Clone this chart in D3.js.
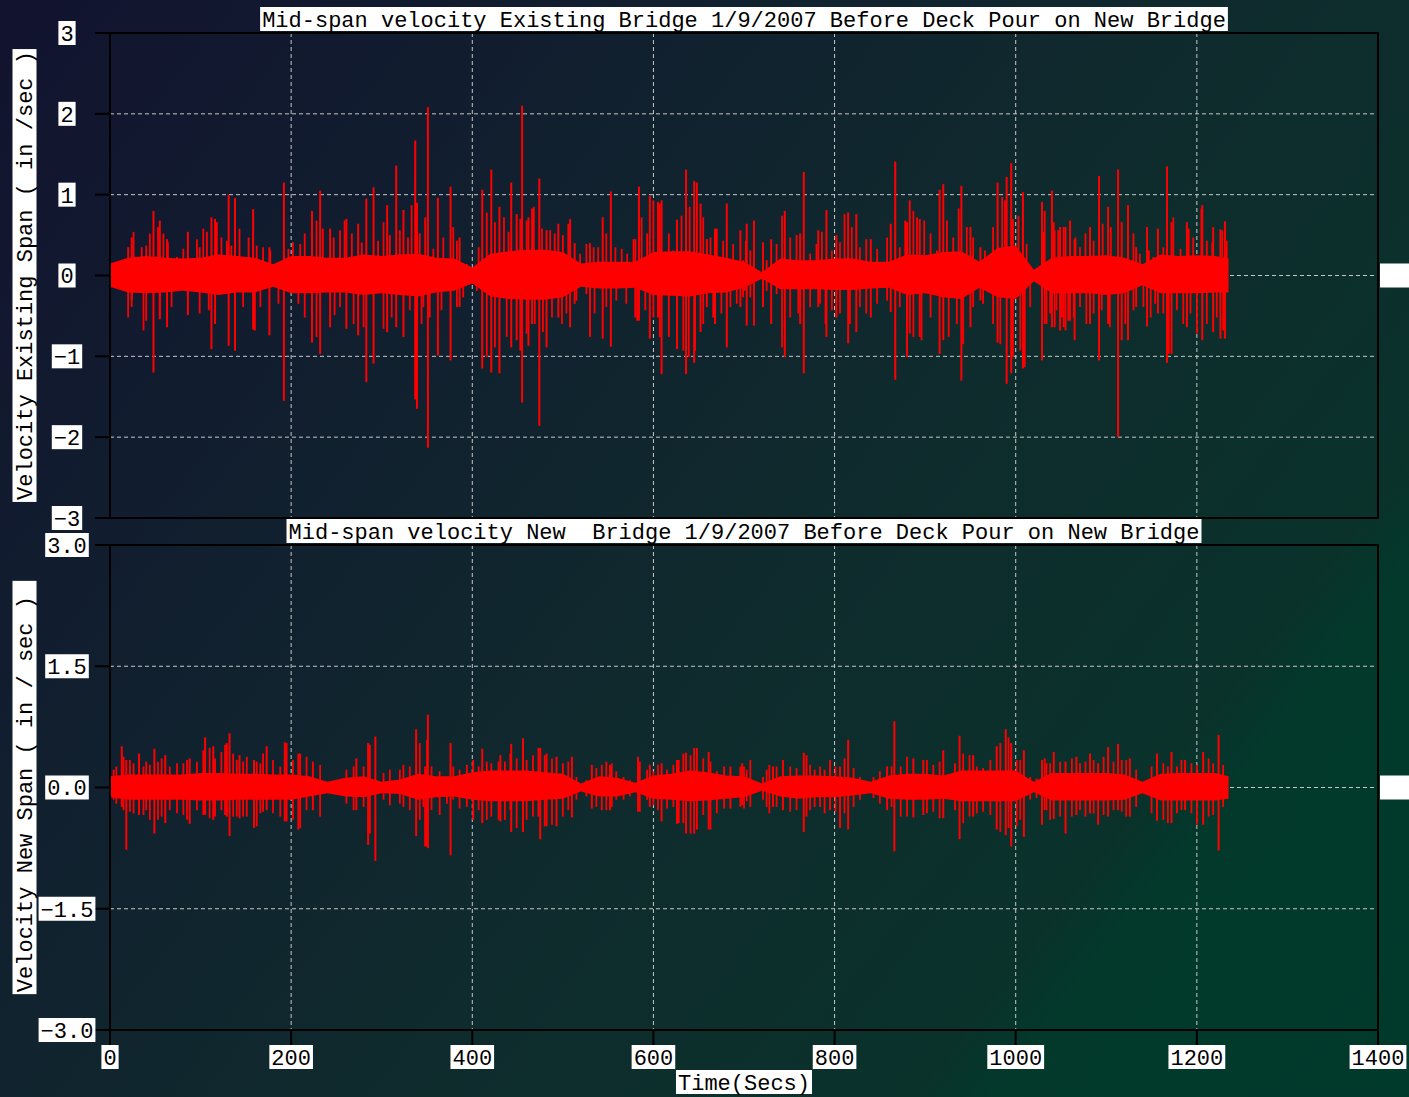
<!DOCTYPE html>
<html>
<head>
<meta charset="utf-8">
<script src="https://cdn.jsdelivr.net/npm/d3@7"></script>
<style>
html, body { margin: 0; padding: 0; overflow: hidden; background: #10262d; }
svg { display: block; }
text { font-family: "Liberation Mono", "DejaVu Sans Mono", monospace; }
</style>
</head>
<body>
<script>
let width = 1409
let height = 1097
let font_size = 22
let signal_color = '#ff0000'
let grid_color = '#c8c8c8'

// time axis
let x_ticks = [0, 200, 400, 600, 800, 1000, 1200, 1400]
let x_grid = [200, 400, 600, 800, 1000, 1200]

// titles
let top_title = 'Mid-span velocity Existing Bridge 1/9/2007 Before Deck Pour on New Bridge'
let bottom_title = 'Mid-span velocity New  Bridge 1/9/2007 Before Deck Pour on New Bridge'
let top_ylabel = 'Velocity Existing Span ( in /sec )'
let bottom_ylabel = 'Velocity New Span ( in / sec ) '
let x_label = 'Time(Secs)'

let top_ticks = [3, 2, 1, 0, -1, -2, -3]
let bottom_ticks = [3, 1.5, 0, -1.5, -3]

// solid band of the record, read every 20 s
let core_times = [0, 20, 40, 60, 80, 100, 120, 140, 160, 180, 200, 220, 240, 260, 280, 300, 320, 340,
    360, 380, 400, 420, 440, 460, 480, 500, 520, 540, 560, 580, 600, 620, 640, 660, 680, 700,
    720, 740, 760, 780, 800, 820, 840, 860, 880, 900, 920, 940, 960, 980, 1000, 1020, 1040, 1060,
    1080, 1100, 1120, 1140, 1160, 1180, 1200, 1220, 1235]
let existing_core_hi = [0.15, 0.22, 0.24, 0.22, 0.21, 0.22, 0.26, 0.24, 0.22, 0.14, 0.24, 0.24, 0.22, 0.22, 0.26, 0.24, 0.26, 0.27,
    0.22, 0.21, 0.10, 0.27, 0.30, 0.32, 0.32, 0.29, 0.15, 0.17, 0.17, 0.17, 0.29, 0.30, 0.30, 0.26, 0.22, 0.17,
    0.04, 0.21, 0.19, 0.19, 0.21, 0.21, 0.17, 0.17, 0.26, 0.25, 0.29, 0.30, 0.17, 0.34, 0.37, 0.07, 0.22, 0.24,
    0.24, 0.25, 0.22, 0.14, 0.26, 0.24, 0.25, 0.24, 0.21]
let existing_core_lo = [-0.14, -0.21, -0.22, -0.21, -0.19, -0.21, -0.24, -0.21, -0.21, -0.14, -0.22, -0.22, -0.21, -0.21, -0.24, -0.22, -0.24, -0.26,
    -0.21, -0.19, -0.10, -0.26, -0.29, -0.30, -0.30, -0.27, -0.14, -0.16, -0.16, -0.15, -0.24, -0.25, -0.26, -0.22, -0.21, -0.15,
    -0.04, -0.17, -0.17, -0.17, -0.18, -0.18, -0.16, -0.15, -0.24, -0.22, -0.27, -0.29, -0.15, -0.27, -0.29, -0.07, -0.22, -0.22,
    -0.22, -0.24, -0.22, -0.12, -0.22, -0.22, -0.22, -0.21, -0.21]
let new_core_hi = [0.14, 0.16, 0.16, 0.16, 0.16, 0.18, 0.18, 0.17, 0.17, 0.16, 0.16, 0.14, 0.07, 0.12, 0.14, 0.07, 0.10, 0.17,
    0.14, 0.14, 0.19, 0.21, 0.21, 0.21, 0.19, 0.17, 0.05, 0.14, 0.12, 0.06, 0.15, 0.17, 0.21, 0.19, 0.15, 0.14,
    0.05, 0.14, 0.15, 0.15, 0.14, 0.12, 0.07, 0.15, 0.17, 0.17, 0.15, 0.21, 0.21, 0.21, 0.21, 0.07, 0.18, 0.18,
    0.18, 0.18, 0.16, 0.07, 0.17, 0.18, 0.18, 0.18, 0.14]
let new_core_lo = [-0.12, -0.15, -0.15, -0.15, -0.15, -0.16, -0.16, -0.15, -0.15, -0.15, -0.15, -0.11, -0.07, -0.11, -0.12, -0.07, -0.08, -0.15,
    -0.12, -0.11, -0.15, -0.17, -0.17, -0.17, -0.15, -0.14, -0.05, -0.11, -0.11, -0.06, -0.14, -0.15, -0.17, -0.16, -0.14, -0.12,
    -0.04, -0.11, -0.14, -0.12, -0.12, -0.10, -0.07, -0.14, -0.15, -0.15, -0.14, -0.17, -0.17, -0.17, -0.17, -0.06, -0.16, -0.16,
    -0.16, -0.16, -0.15, -0.07, -0.16, -0.16, -0.16, -0.16, -0.14]

// larger peaks: [time, max, min]
let existing_spikes = [
    [0, 0.33, -0.39], [24, 0.47, -0.30], [48, 0.80, -1.20], [55, 0.68, -0.54], [63, 0.45, -0.64], [86, 0.54, -0.49],
    [112, 0.72, -0.91], [116, 0.70, -0.60], [131, 1.00, -0.87], [138, 0.96, -0.93], [158, 0.82, -0.67], [176, 0.35, -0.74],
    [192, 1.15, -1.55], [223, 0.80, -0.83], [232, 1.05, -0.97], [243, 0.58, -0.64], [261, 0.70, -0.66], [274, 0.64, -0.74],
    [283, 0.95, -1.32], [291, 1.09, -1.09], [306, 0.87, -0.70], [316, 1.36, -0.64], [324, 0.81, -0.76], [337, 1.67, -1.53],
    [339, 0.90, -1.65], [351, 2.08, -2.13], [362, 0.96, -0.99], [376, 1.10, -1.05], [386, 0.47, -0.39], [411, 1.06, -1.15],
    [421, 1.31, -1.20], [430, 0.85, -1.21], [443, 1.15, -0.89], [449, 0.76, -0.80], [455, 2.10, -1.57], [462, 0.72, -0.87],
    [466, 0.83, -0.60], [474, 1.20, -1.86], [482, 0.56, -0.89], [495, 0.64, -0.52], [508, 0.70, -0.64], [513, 0.40, -0.35],
    [530, 0.40, -0.76], [544, 0.72, -0.78], [553, 1.04, -0.88], [580, 0.45, -0.52], [584, 1.10, -0.56], [596, 0.99, -0.78],
    [605, 0.91, -0.52], [609, 0.93, -1.22], [626, 0.69, -0.91], [636, 1.31, -1.22], [645, 1.17, -1.08], [652, 0.89, -0.70],
    [659, 0.45, -0.39], [668, 0.58, -0.60], [681, 0.89, -0.89], [696, 0.56, -0.39], [703, 0.64, -0.62], [711, 0.68, -0.62],
    [721, 0.41, -0.39], [730, 0.45, -0.60], [745, 0.80, -1.01], [762, 0.52, -0.60], [766, 1.28, -1.21], [782, 0.56, -0.39],
    [791, 0.81, -0.76], [802, 0.50, -0.52], [815, 0.78, -0.84], [824, 0.76, -0.70], [840, 0.45, -0.52], [862, 0.64, -0.45],
    [867, 1.41, -1.29], [880, 0.66, -1.01], [883, 0.93, -0.72], [894, 0.70, -0.76], [916, 1.06, -0.97], [920, 1.13, -0.80],
    [940, 1.11, -1.30], [950, 0.60, -0.64], [961, 0.35, -0.31], [980, 1.15, -0.83], [990, 1.22, -1.34], [995, 1.39, -1.21],
    [1008, 1.03, -1.15], [1029, 0.91, -1.05], [1040, 1.05, -0.64], [1049, 0.60, -0.68], [1053, 0.60, -0.64], [1060, 0.68, -0.56],
    [1065, 0.45, -0.80], [1082, 0.60, -0.60], [1092, 1.23, -1.05], [1102, 0.85, -0.60], [1113, 1.31, -2.00], [1117, 0.66, -0.80],
    [1124, 0.87, -0.80], [1133, 0.35, -0.39], [1145, 0.60, -0.63], [1157, 0.58, -0.47], [1167, 1.35, -1.08], [1172, 0.66, -0.97],
    [1189, 0.66, -0.64], [1206, 0.87, -0.80], [1218, 0.60, -0.70], [1226, 0.57, -0.78], [1231, 0.67, -0.78]
]
// smaller one-sided excursions: [time, value]
let existing_peaks_up = [
    [20, 0.35], [26, 0.54], [35, 0.35], [40, 0.37], [44, 0.52], [53, 0.60], [59, 0.52], [64, 0.41], [74, 0.23], [81, 0.33],
    [96, 0.45], [99, 0.35], [103, 0.58], [107, 0.54], [118, 0.66], [123, 0.47], [129, 0.43], [134, 0.37], [143, 0.58], [153, 0.47],
    [162, 0.37], [169, 0.35], [177, 0.31], [197, 0.33], [202, 0.41], [210, 0.39], [215, 0.52], [228, 0.68], [235, 0.58], [247, 0.47],
    [254, 0.56], [259, 0.68], [267, 0.52], [278, 0.41], [296, 0.43], [302, 0.66], [309, 0.50], [320, 0.56], [329, 0.47], [333, 0.87],
    [342, 0.52], [348, 0.72], [346, 0.19], [357, 0.33], [368, 0.47], [379, 0.60], [383, 0.43], [394, 0.14], [407, 0.35], [416, 0.78],
    [425, 0.66], [435, 0.72], [440, 0.54], [453, 0.70], [460, 0.68], [468, 0.85], [477, 0.58], [486, 0.56], [491, 0.52], [500, 0.50],
    [506, 0.64], [519, 0.27], [526, 0.39], [534, 0.35], [539, 0.35], [548, 0.52], [558, 0.35], [565, 0.33], [571, 0.27], [578, 0.45],
    [587, 0.72], [593, 0.52], [600, 0.93], [607, 0.89], [617, 0.52], [622, 0.31], [631, 0.74], [640, 0.85], [648, 1.15], [655, 0.72],
    [663, 0.47], [670, 0.58], [677, 0.43], [688, 0.39], [702, 0.43], [699, 0.19], [707, 0.31], [725, 0.19], [736, 0.39], [742, 0.74],
    [751, 0.47], [758, 0.50], [773, 0.27], [780, 0.39], [786, 0.54], [797, 0.31], [806, 0.41], [811, 0.76], [819, 0.60], [828, 0.35],
    [835, 0.45], [847, 0.33], [858, 0.47], [872, 0.35], [878, 0.68], [887, 0.80], [891, 0.72], [899, 0.68], [906, 0.52], [913, 0.31],
    [924, 0.68], [931, 0.47], [937, 0.83], [946, 0.60], [953, 0.47], [966, 0.31], [975, 0.60], [985, 0.97], [988, 0.93], [997, 0.70],
    [1003, 0.74], [1012, 0.39], [1031, 0.54], [1042, 0.66], [1047, 0.56], [1055, 0.60], [1032, 0.80], [1043, 0.56], [1066, 0.47], [1071, 0.35],
    [1077, 0.52], [1086, 0.43], [1096, 0.64], [1105, 0.60], [1130, 0.52], [1137, 0.27], [1147, 0.31], [1152, 0.23], [1163, 0.35], [1174, 0.72],
    [1182, 0.33], [1191, 0.58], [1196, 0.47], [1205, 0.83], [1211, 0.43], [1217, 0.41], [1228, 0.56], [1233, 0.43]
]
let existing_peaks_down = [
    [20, -0.52], [24, -0.39], [37, -0.68], [40, -0.56], [55, -0.52], [68, -0.39], [99, -0.47], [109, -0.43], [147, -0.39], [160, -0.68],
    [166, -0.39], [186, -0.35], [208, -0.35], [215, -0.52], [228, -0.76], [248, -0.49], [254, -0.39], [269, -0.60], [280, -0.64], [302, -0.66],
    [311, -0.52], [331, -0.43], [344, -0.60], [346, -0.39], [353, -0.52], [366, -0.43], [383, -0.39], [390, -0.27], [405, -0.19], [416, -1.01],
    [425, -0.89], [438, -0.76], [453, -0.93], [460, -0.72], [469, -0.60], [478, -0.70], [488, -0.52], [499, -0.60], [504, -0.47], [515, -0.31],
    [526, -0.23], [535, -0.47], [548, -0.39], [559, -0.31], [570, -0.35], [582, -0.56], [591, -0.43], [600, -0.52], [607, -0.76], [617, -0.76],
    [633, -0.93], [639, -1.01], [646, -0.93], [655, -0.60], [666, -0.52], [675, -0.47], [685, -0.39], [692, -0.35], [701, -0.19], [699, -0.27],
    [707, -0.27], [725, -0.19], [736, -0.23], [742, -0.89], [751, -0.52], [760, -0.47], [773, -0.39], [784, -0.35], [790, -0.60], [797, -0.43],
    [806, -0.47], [817, -0.60], [828, -0.39], [835, -0.47], [847, -0.35], [858, -0.31], [872, -0.39], [887, -0.76], [896, -0.80], [906, -0.52],
    [926, -0.76], [935, -0.60], [942, -0.85], [953, -0.39], [964, -0.35], [975, -0.60], [983, -0.85], [997, -1.01], [1005, -0.93], [1010, -1.13],
    [1016, -0.39], [1034, -0.60], [1043, -0.64], [1051, -0.52], [1058, -0.56], [1032, -0.60], [1038, -0.47], [1045, -0.43], [1055, -0.68], [1064, -0.52],
    [1071, -0.39], [1078, -0.60], [1086, -0.47], [1095, -0.43], [1104, -0.64], [1121, -0.60], [1130, -0.43], [1141, -0.39], [1149, -0.52], [1154, -0.35],
    [1163, -0.47], [1169, -0.97], [1178, -0.43], [1185, -0.60], [1193, -0.47], [1200, -0.72], [1211, -0.60], [1222, -0.52], [1229, -0.68]
]

let new_spikes = [
    [0, 0.24, -0.30], [13, 0.51, -0.24], [18, 0.34, -0.77], [32, 0.42, -0.34], [49, 0.48, -0.57], [61, 0.40, -0.44],
    [88, 0.36, -0.45], [105, 0.62, -0.34], [114, 0.51, -0.40], [129, 0.55, -0.36], [132, 0.67, -0.60], [143, 0.40, -0.38],
    [159, 0.34, -0.50], [173, 0.51, -0.28], [193, 0.56, -0.42], [208, 0.42, -0.52], [224, 0.32, -0.28], [272, 0.36, -0.28],
    [285, 0.55, -0.71], [293, 0.63, -0.91], [338, 0.72, -0.60], [348, 0.26, -0.73], [351, 0.90, -0.75], [376, 0.55, -0.84],
    [401, 0.34, -0.40], [411, 0.48, -0.44], [431, 0.40, -0.42], [443, 0.54, -0.55], [456, 0.61, -0.55], [475, 0.49, -0.64],
    [482, 0.42, -0.48], [493, 0.38, -0.48], [510, 0.38, -0.37], [532, 0.28, -0.26], [552, 0.28, -0.28], [583, 0.38, -0.30],
    [596, 0.28, -0.24], [609, 0.30, -0.42], [626, 0.34, -0.45], [636, 0.43, -0.57], [645, 0.49, -0.57], [661, 0.44, -0.52],
    [685, 0.26, -0.26], [698, 0.30, -0.22], [732, 0.26, -0.24], [743, 0.34, -0.28], [766, 0.43, -0.55], [769, 0.40, -0.36],
    [795, 0.34, -0.28], [806, 0.26, -0.50], [815, 0.59, -0.52], [858, 0.26, -0.28], [866, 0.82, -0.79], [887, 0.36, -0.37],
    [898, 0.34, -0.34], [920, 0.46, -0.38], [938, 0.64, -0.64], [953, 0.40, -0.36], [979, 0.51, -0.52], [989, 0.72, -0.59],
    [995, 0.55, -0.73], [1009, 0.46, -0.61], [1029, 0.34, -0.46], [1042, 0.44, -0.39], [1055, 0.32, -0.57], [1067, 0.38, -0.34],
    [1082, 0.42, -0.32], [1091, 0.30, -0.46], [1102, 0.50, -0.36], [1113, 0.54, -0.28], [1126, 0.36, -0.36], [1156, 0.42, -0.41],
    [1172, 0.44, -0.44], [1187, 0.34, -0.28], [1207, 0.44, -0.46], [1224, 0.65, -0.78]
]
// smaller excursions: [time, max, min]
let new_hairs = [
    [4, 0.22, -0.15], [7, 0.26, -0.20], [15, 0.38, -0.28], [22, 0.34, -0.30], [26, 0.30, -0.32], [37, 0.26, -0.34], [40, 0.32, -0.28],
    [44, 0.28, -0.40], [53, 0.32, -0.40], [57, 0.36, -0.36], [66, 0.26, -0.28], [74, 0.30, -0.32], [81, 0.30, -0.34], [85, 0.34, -0.40],
    [96, 0.32, -0.28], [103, 0.46, -0.34], [110, 0.49, -0.38], [116, 0.36, -0.36], [123, 0.44, -0.28], [127, 0.53, -0.34], [136, 0.42, -0.36],
    [140, 0.34, -0.36], [147, 0.32, -0.36], [151, 0.38, -0.36], [162, 0.32, -0.48], [166, 0.30, -0.32], [169, 0.42, -0.30], [180, 0.34, -0.32],
    [188, 0.26, -0.36], [195, 0.55, -0.42], [202, 0.34, -0.40], [210, 0.42, -0.50], [217, 0.38, -0.28], [232, 0.28, -0.36], [261, 0.22, -0.20],
    [269, 0.26, -0.28], [280, 0.26, -0.24], [287, 0.53, -0.57], [302, 0.18, -0.15], [309, 0.22, -0.22], [320, 0.22, -0.20], [324, 0.28, -0.24],
    [331, 0.26, -0.28], [342, 0.55, -0.40], [350, 0.59, -0.73], [346, 0.13, -0.24], [355, 0.26, -0.28], [364, 0.20, -0.34], [372, 0.13, -0.20],
    [379, 0.26, -0.15], [386, 0.22, -0.26], [394, 0.28, -0.24], [407, 0.26, -0.28], [416, 0.32, -0.40], [421, 0.30, -0.36], [429, 0.32, -0.40],
    [436, 0.32, -0.40], [442, 0.42, -0.28], [449, 0.36, -0.50], [460, 0.34, -0.40], [467, 0.40, -0.36], [473, 0.49, -0.36], [480, 0.40, -0.48],
    [488, 0.36, -0.46], [500, 0.30, -0.36], [506, 0.32, -0.28], [515, 0.13, -0.15], [526, 0.09, -0.11], [537, 0.24, -0.24], [543, 0.28, -0.28],
    [548, 0.32, -0.28], [554, 0.30, -0.24], [559, 0.20, -0.15], [567, 0.13, -0.15], [574, 0.09, -0.11], [585, 0.32, -0.30], [593, 0.22, -0.15],
    [600, 0.20, -0.22], [605, 0.28, -0.28], [615, 0.22, -0.26], [622, 0.28, -0.24], [628, 0.34, -0.44], [633, 0.42, -0.44], [641, 0.40, -0.57],
    [648, 0.49, -0.52], [655, 0.36, -0.34], [663, 0.32, -0.52], [670, 0.20, -0.32], [678, 0.26, -0.26], [696, 0.26, -0.24], [703, 0.22, -0.17],
    [700, 0.26, -0.26], [707, 0.34, -0.24], [721, 0.13, -0.15], [725, 0.22, -0.24], [728, 0.28, -0.32], [736, 0.26, -0.24], [751, 0.26, -0.30],
    [758, 0.24, -0.28], [773, 0.28, -0.28], [778, 0.22, -0.24], [784, 0.26, -0.24], [789, 0.22, -0.32], [801, 0.26, -0.30], [811, 0.36, -0.32],
    [821, 0.24, -0.24], [828, 0.13, -0.15], [843, 0.13, -0.13], [850, 0.20, -0.20], [863, 0.26, -0.24], [873, 0.26, -0.36], [880, 0.38, -0.36],
    [902, 0.34, -0.32], [909, 0.28, -0.30], [916, 0.32, -0.38], [933, 0.30, -0.28], [942, 0.42, -0.44], [949, 0.40, -0.36], [957, 0.26, -0.32],
    [964, 0.24, -0.30], [972, 0.34, -0.34], [983, 0.55, -0.55], [992, 0.62, -0.50], [1001, 0.34, -0.48], [1005, 0.34, -0.40], [1016, 0.13, -0.15],
    [1023, 0.11, -0.13], [1034, 0.30, -0.28], [1049, 0.32, -0.36], [1032, 0.36, -0.28], [1038, 0.30, -0.40], [1062, 0.36, -0.36], [1071, 0.30, -0.28],
    [1077, 0.32, -0.36], [1086, 0.34, -0.32], [1097, 0.38, -0.34], [1108, 0.32, -0.28], [1117, 0.34, -0.30], [1122, 0.34, -0.36], [1133, 0.22, -0.24],
    [1150, 0.26, -0.32], [1163, 0.30, -0.40], [1168, 0.26, -0.44], [1178, 0.26, -0.32], [1183, 0.34, -0.28], [1194, 0.30, -0.32], [1200, 0.28, -0.46],
    [1213, 0.36, -0.36], [1218, 0.30, -0.34], [1229, 0.28, -0.24]
]

let x = d3.scaleLinear().domain([0, 1400]).range([110, 1378])

let panels = [
    {y: d3.scaleLinear().domain([-3, 3]).range([518, 33]), ticks: top_ticks, fmt: d3.format('d'),
     hi: existing_core_hi, lo: existing_core_lo, spikes: existing_spikes,
     hairs: existing_peaks_up.map(d => [d[0], d[1], 0]).concat(existing_peaks_down.map(d => [d[0], 0, d[1]])),
     title: top_title, ylabel: top_ylabel},
    {y: d3.scaleLinear().domain([-3, 3]).range([1030, 545]), ticks: bottom_ticks, fmt: d3.format('.1f'),
     hi: new_core_hi, lo: new_core_lo, spikes: new_spikes, hairs: new_hairs,
     title: bottom_title, ylabel: bottom_ylabel}
]

let svg = d3.select('body').append('svg')
    .attr('width', width)
    .attr('height', height)

let defs = svg.append('defs')
let grad = defs.append('linearGradient')
    .attr('id', 'bg')
    .attr('gradientUnits', 'userSpaceOnUse')
    .attr('x1', 0).attr('y1', 0)
    .attr('x2', width).attr('y2', height)
grad.append('stop').attr('offset', 0).attr('stop-color', '#12132f')
grad.append('stop').attr('offset', 0.3).attr('stop-color', '#11202f')
grad.append('stop').attr('offset', 0.55).attr('stop-color', '#0f2b2d')
grad.append('stop').attr('offset', 0.78).attr('stop-color', '#0a322b')
grad.append('stop').attr('offset', 0.82).attr('stop-color', '#02392b')
grad.append('stop').attr('offset', 1).attr('stop-color', '#003a2b')

svg.append('rect')
    .attr('width', width)
    .attr('height', height)
    .attr('fill', 'url(#bg)')

function boxed_text(parent, str, cx, cy, angle) {
    let g = parent.append('g')
        .attr('transform', `translate(${cx},${cy}) rotate(${angle || 0})`)
    let rect = g.append('rect').attr('fill', 'white')
    let text = g.append('text')
        .attr('text-anchor', 'middle')
        .attr('dy', '0.36em')
        .attr('font-size', font_size)
        .attr('fill', 'black')
        .style('white-space', 'pre')
        .text(str)
    let box = text.node().getBBox()
    rect.attr('x', box.x - 2)
        .attr('y', -12)
        .attr('width', box.width + 4)
        .attr('height', 24)
    return g
}

function draw_lines(g, data, y, w) {
    g.append('g')
        .selectAll('line')
        .data(data)
        .enter()
        .append('line')
        .attr('x1', d => x(d[0]))
        .attr('x2', d => x(d[0]))
        .attr('y1', d => y(d[2]))
        .attr('y2', d => y(d[1]))
        .attr('stroke', signal_color)
        .attr('stroke-width', w)
}

function draw_panel(p) {
    let g = svg.append('g')
    let y = p.y

    // grid
    g.selectAll('.hgrid')
        .data(p.ticks.slice(1, -1))
        .enter()
        .append('line')
        .attr('x1', x(0))
        .attr('x2', x(1400))
        .attr('y1', d => y(d))
        .attr('y2', d => y(d))
        .attr('stroke', grid_color)
        .attr('stroke-width', 1)
        .attr('stroke-dasharray', '4,3')
    g.selectAll('.vgrid')
        .data(x_grid)
        .enter()
        .append('line')
        .attr('x1', d => x(d))
        .attr('x2', d => x(d))
        .attr('y1', y(3))
        .attr('y2', y(-3))
        .attr('stroke', grid_color)
        .attr('stroke-width', 1)
        .attr('stroke-dasharray', '4,3')

    // signal: solid band, small excursions, larger peaks
    let core = core_times.map((t, i) => ({t: t, hi: p.hi[i], lo: p.lo[i]}))
    let area = d3.area()
        .x(d => x(d.t))
        .y0(d => y(d.lo))
        .y1(d => y(d.hi))
    g.append('path')
        .datum(core)
        .attr('d', area)
        .attr('fill', signal_color)
    draw_lines(g, p.hairs, y, 1.8)
    draw_lines(g, p.spikes, y, 2)

    // frame and ticks
    g.append('rect')
        .attr('x', x(0))
        .attr('y', y(3))
        .attr('width', x(1400) - x(0))
        .attr('height', y(-3) - y(3))
        .attr('fill', 'none')
        .attr('stroke', 'black')
        .attr('stroke-width', 2)
    g.selectAll('.ytick')
        .data(p.ticks)
        .enter()
        .append('line')
        .attr('x1', x(0) - 15)
        .attr('x2', x(0))
        .attr('y1', d => y(d))
        .attr('y2', d => y(d))
        .attr('stroke', 'black')
        .attr('stroke-width', 2)
    p.ticks.forEach(d => boxed_text(g, p.fmt(d), 67, y(d)))

    // right-hand marker at zero
    g.append('rect')
        .attr('x', 1380)
        .attr('y', y(0) - 12)
        .attr('width', 40)
        .attr('height', 24)
        .attr('fill', 'white')

    boxed_text(g, p.title, (x(0) + x(1400)) / 2, y(3) - 14)
    boxed_text(g, p.ylabel, 24.5, (y(3) + y(-3)) / 2, -90)
}

panels.forEach(draw_panel)

// time axis under the lower panel
let y_bottom = panels[1].y(-3)
svg.selectAll('.xtick')
    .data(x_ticks)
    .enter()
    .append('line')
    .attr('x1', d => x(d))
    .attr('x2', d => x(d))
    .attr('y1', y_bottom)
    .attr('y2', y_bottom + 15)
    .attr('stroke', 'black')
    .attr('stroke-width', 2)
x_ticks.forEach(d => boxed_text(svg, String(d), x(d), y_bottom + 27))
boxed_text(svg, x_label, (x(0) + x(1400)) / 2, y_bottom + 52)
</script>
</body>
</html>
